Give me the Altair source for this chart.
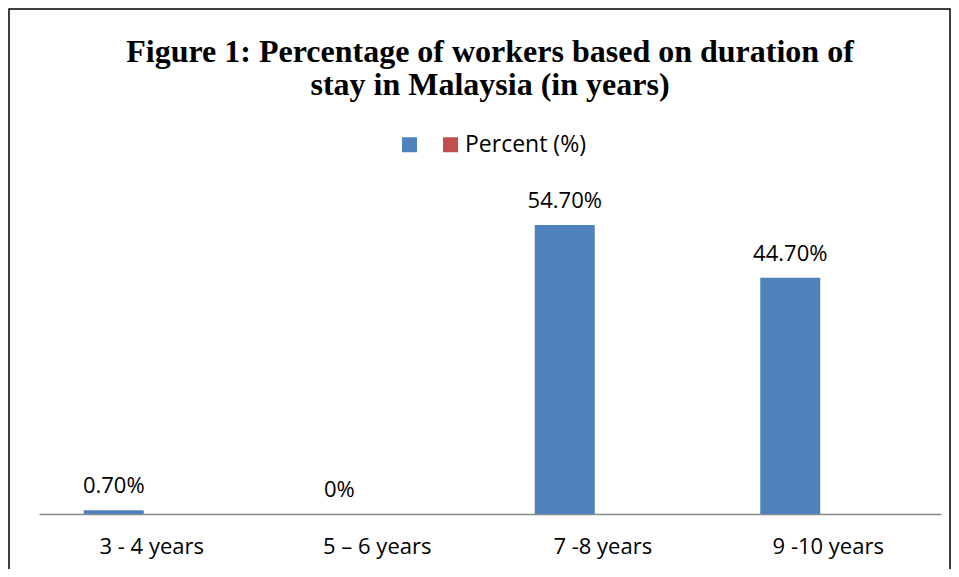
import altair as alt
import pandas as pd

categories = ["3 - 4 years", "5 – 6 years", "7 -8 years", "9 -10 years"]
values = [0.7, 0, 54.7, 44.7]
labels = ["0.70%", "0%", "54.70%", "44.70%"]
series = ["", "", "", ""]
legend_names = ["", "Percent (%)"]
colors = ["#4F81BD", "#C0504D"]
title_lines = ["Figure 1: Percentage of workers based on duration of", "stay in Malaysia (in years)"]

df = pd.DataFrame({"cat": categories, "val": values, "lab": labels, "series": series})

x = alt.X(
    "cat:N", sort=categories, title=None,
    scale=alt.Scale(paddingInner=0, paddingOuter=0),
    axis=alt.Axis(labelAngle=0, domainColor="#898989", domainWidth=1.5, ticks=False,
                  labelFont="Open Sans", labelFontSize=22, labelColor="black",
                  labelPadding=22, grid=False),
)
y = alt.Y("val:Q", scale=alt.Scale(domain=[0, 60]), axis=None)

bars = alt.Chart(df).mark_bar(size=60, xOffset=-38).encode(
    x=x, y=y,
    color=alt.Color(
        "series:N",
        scale=alt.Scale(domain=legend_names, range=colors),
        legend=alt.Legend(orient="none", legendX=359, legendY=-64, direction="horizontal",
                          title=None, symbolType="square", symbolSize=225, symbolStrokeWidth=0,
                          labelFont="Open Sans", labelFontSize=23, labelColor="black",
                          labelOffset=3, columnPadding=15, padding=0),
    ),
)

text = alt.Chart(df).mark_text(xOffset=-38, dy=-17, baseline="alphabetic", font="Open Sans",
                               fontSize=22, color="black").encode(x=x, y=y, text="lab:N")

border = alt.Chart(pd.DataFrame({"a": [0]})).mark_rect(
    fillOpacity=0, stroke="black", strokeWidth=1.5
).encode(x=alt.value(-30), x2=alt.value(911), y=alt.value(-188), y2=alt.value(380))

chart = alt.layer(border, bars, text).properties(
    width=902, height=317,
    autosize=alt.AutoSizeParams(type="none"),
    padding={"left": 31, "top": 189, "right": 10, "bottom": 55},
    title=alt.Title(title_lines, font="Liberation Serif", fontSize=32, fontWeight="bold",
                    lineHeight=33, anchor="middle", offset=-94, color="black"),
).configure_view(strokeWidth=0)

chart.save("out.html", embed_options={"renderer": "svg", "actions": False})
